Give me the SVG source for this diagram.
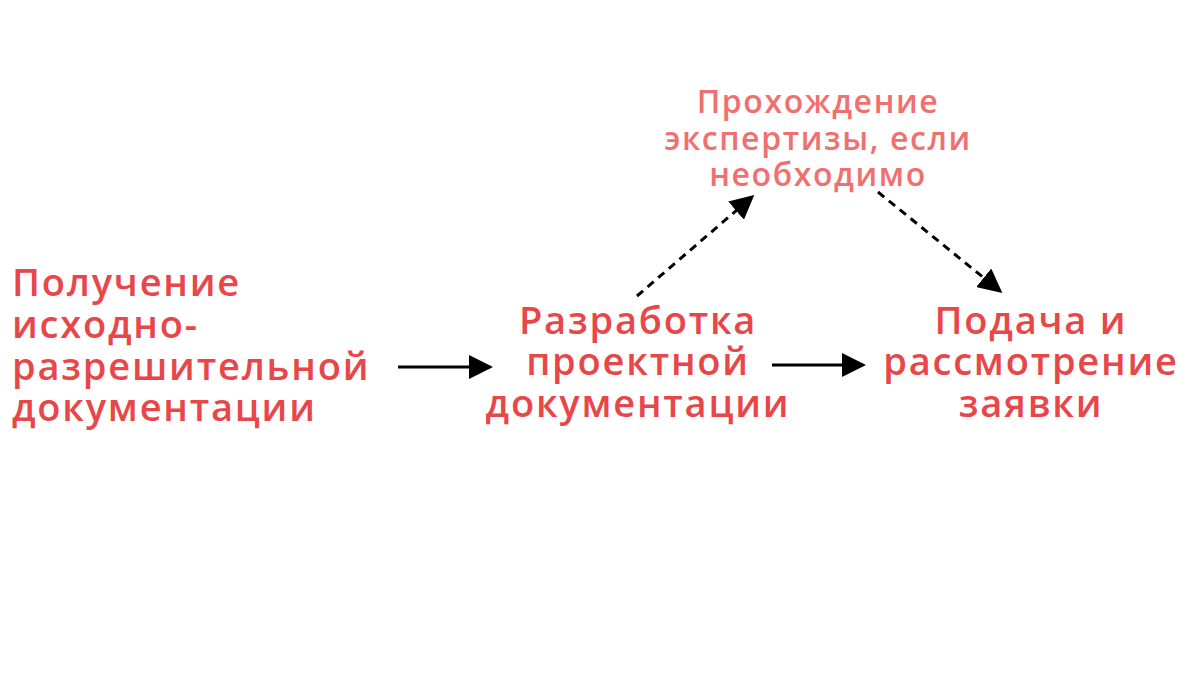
<svg xmlns="http://www.w3.org/2000/svg" width="1200" height="675" viewBox="0 0 1200 675">
<style>
.m{font-family:"Open Sans","Liberation Sans",sans-serif;font-size:38px;font-weight:600;letter-spacing:1.8px;fill:#e8474a}
.t{font-family:"Open Sans","Liberation Sans",sans-serif;font-size:32px;font-weight:600;letter-spacing:1.6px;fill:#f07070}
.c{text-anchor:middle}
.l{stroke:#000;stroke-width:3;fill:none;marker-end:url(#a)}
.d{stroke-dasharray:8 6}
</style>
<defs><marker id="a" markerWidth="8" markerHeight="8" refX="7" refY="4" orient="auto" markerUnits="strokeWidth"><path d="M0,0L8,4L0,8z" fill="#000"/></marker></defs>
<rect width="1200" height="675" fill="#fff"/>
<g id="n1"><text class="m" x="12"><tspan x="12" y="296">Получение</tspan><tspan x="12" y="338">исходно-</tspan><tspan x="12" y="380">разрешительной</tspan><tspan x="12" y="421">документации</tspan></text></g>
<g id="n2"><text class="m c"><tspan x="638" y="334">Разработка</tspan><tspan x="638" y="375">проектной</tspan><tspan x="638" y="417">документации</tspan></text></g>
<g id="n3"><text class="m c"><tspan x="1031" y="334">Подача и</tspan><tspan x="1031" y="375">рассмотрение</tspan><tspan x="1031" y="417">заявки</tspan></text></g>
<g id="n4"><text class="t c"><tspan x="818" y="113">Прохождение</tspan><tspan x="818" y="150">экспертизы, если</tspan><tspan x="818" y="186">необходимо</tspan></text></g>
<g id="edges">
<line class="l" x1="398" y1="367" x2="490" y2="367"/>
<line class="l" x1="772" y1="365" x2="863" y2="365"/>
<line class="l d" x1="637" y1="296" x2="752" y2="197"/>
<line class="l d" x1="878" y1="192" x2="1000" y2="291"/>
</g>
</svg>
